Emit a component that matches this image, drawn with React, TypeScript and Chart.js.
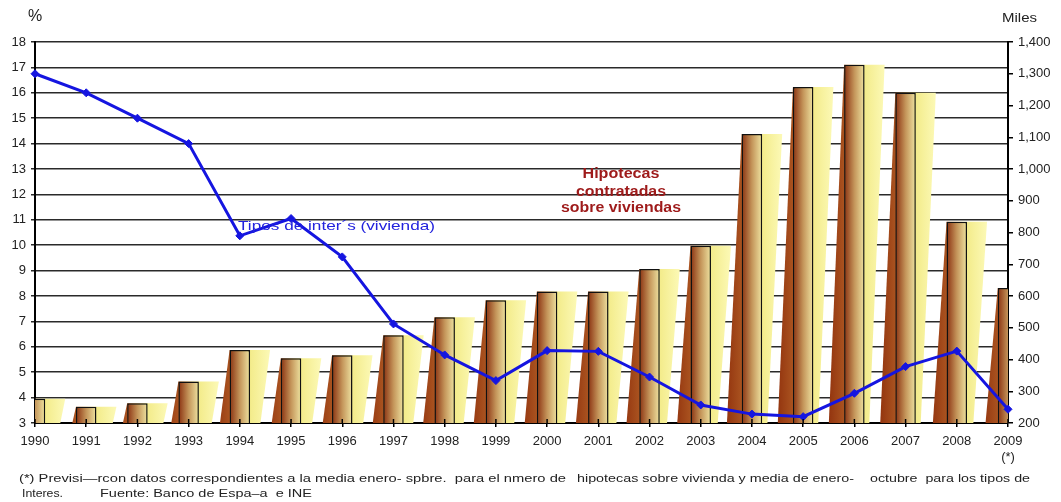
import React, { useEffect, useRef } from 'react';
import { Chart, registerables } from 'chart.js';

Chart.register(...registerables);

const years: (string | string[])[] = [
  '1990', '1991', '1992', '1993', '1994', '1995', '1996', '1997', '1998', '1999',
  '2000', '2001', '2002', '2003', '2004', '2005', '2006', '2007', '2008', ['2009', '(*)'],
];

// Tipos de interés (vivienda), % — left axis
const interestRates = [
  16.75, 16.0, 15.0, 14.0, 10.37, 11.05, 9.54, 6.9, 5.68, 4.67,
  5.85, 5.82, 4.81, 3.71, 3.35, 3.25, 4.17, 5.22, 5.83, 3.54,
];

// Hipotecas contratadas sobre viviendas, miles — right axis
const mortgages = [
  276, 251, 262, 331, 430, 404, 413, 476, 533, 587,
  614, 614, 685, 758, 1110, 1258, 1328, 1240, 834, 625,
];

const leftTicks = { min: 3, max: 18, step: 1 };
const rightTicks = { min: 200, max: 1400, step: 100 };

const FONT = "Arial, 'Liberation Sans', sans-serif";

function fitText(
  ctx: CanvasRenderingContext2D,
  text: string,
  x: number,
  y: number,
  font: string,
  color: string,
  targetW: number | null,
  align: 'left' | 'center' = 'left'
) {
  ctx.save();
  ctx.font = font;
  ctx.fillStyle = color;
  ctx.textBaseline = 'middle';
  ctx.textAlign = 'left';
  const w = ctx.measureText(text).width;
  const s = targetW ? targetW / w : 1;
  ctx.translate(x, y);
  ctx.scale(s, 1);
  ctx.fillText(text, align === 'center' ? -w / 2 : 0, 0);
  ctx.restore();
}

function barHalf(chart: any) {
  const a = chart.chartArea;
  return ((a.right - a.left) / (years.length - 1)) * 0.4 / 2;
}

const shadowPlugin = {
  id: 'shadowPlugin',
  beforeDatasetsDraw(chart: any) {
    const meta = chart.getDatasetMeta(0);
    const a = chart.chartArea;
    const ctx: CanvasRenderingContext2D = chart.ctx;
    ctx.save();
    ctx.beginPath();
    ctx.rect(a.left, a.top, a.right - a.left, a.bottom - a.top);
    ctx.clip();
    meta.data.forEach((el: any) => {
      const half = el.width / 2;
      const L = el.x - half;
      const R = el.x + half;
      const T = el.y;
      const B = el.base;
      const skew = 18;
      const g = ctx.createLinearGradient(L - skew, 0, R + skew + 2, 0);
      g.addColorStop(0, '#8f2f0c');
      g.addColorStop(0.3, '#a9521f');
      g.addColorStop(0.62, '#f2ea86');
      g.addColorStop(1, '#fcf9b6');
      ctx.fillStyle = g;
      ctx.beginPath();
      ctx.moveTo(L - skew, B);
      ctx.lineTo(L, T);
      ctx.lineTo(R + skew + 2, T);
      ctx.lineTo(R + 2, B);
      ctx.closePath();
      ctx.fill();
    });
    ctx.restore();
  },
  afterDraw(chart: any) {
    const ctx: CanvasRenderingContext2D = chart.ctx;
    const xs = chart.scales.x;
    const a = chart.chartArea;
    // inner half of x-axis ticks
    ctx.save();
    ctx.strokeStyle = '#000';
    ctx.lineWidth = 1.5;
    for (let i = 0; i < years.length; i++) {
      const px = xs.getPixelForTick(i);
      ctx.beginPath();
      ctx.moveTo(px, a.bottom - 4);
      ctx.lineTo(px, a.bottom);
      ctx.stroke();
    }
    ctx.restore();

    fitText(ctx, '%', 28, 17, `16px ${FONT}`, '#222', null);
    fitText(ctx, 'Miles', 1002, 18, `13px ${FONT}`, '#222', 35);

    fitText(ctx, 'Tipos de inter´s (vivienda)', 238, 226, `13px ${FONT}`, '#2222dd', 197);

    fitText(ctx, 'Hipotecas', 621, 174, `bold 14px ${FONT}`, '#9e1a1a', 77, 'center');
    fitText(ctx, 'contratadas', 621, 192, `bold 14px ${FONT}`, '#9e1a1a', 90, 'center');
    fitText(ctx, 'sobre viviendas', 621, 208, `bold 14px ${FONT}`, '#9e1a1a', 120, 'center');

    const fn = `11.5px ${FONT}`;
    fitText(ctx, '(*) Previsi—rcon datos correspondientes a la media enero- spbre.  para el nmero de', 19, 479, fn, '#222', 547);
    fitText(ctx, 'hipotecas sobre vivienda y media de enero-', 577, 479, fn, '#222', 277);
    fitText(ctx, 'octubre  para los tipos de', 870, 479, fn, '#222', 160);
    fitText(ctx, 'Interes.', 22, 494, fn, '#222', 41);
    fitText(ctx, 'Fuente: Banco de Espa–a  e INE', 100, 494, fn, '#222', 212);
  },
};

export default function App() {
  const ref = useRef<HTMLCanvasElement>(null);

  useEffect(() => {
    if (!ref.current) return;
    const tickFont = { family: FONT, size: 13 };
    const chart = new Chart(ref.current, {
      type: 'bar',
      data: {
        labels: years as any,
        datasets: [
          {
            type: 'bar',
            label: 'Hipotecas contratadas sobre viviendas',
            data: mortgages,
            yAxisID: 'y1',
            order: 2,
            barPercentage: 0.4,
            categoryPercentage: 1,
            borderColor: '#111',
            borderWidth: 1.5,
            borderSkipped: 'bottom',
            backgroundColor: (c: any) => {
              const chart = c.chart;
              if (!chart.chartArea) return '#c08a4a';
              const cx = chart.scales.x.getPixelForValue(c.dataIndex);
              const h = barHalf(chart);
              const g = chart.ctx.createLinearGradient(cx - h, 0, cx + h, 0);
              g.addColorStop(0, '#8a3010');
              g.addColorStop(0.5, '#c4955a');
              g.addColorStop(1, '#efe4a2');
              return g;
            },
          } as any,
          {
            type: 'line',
            label: 'Tipos de interés (vivienda)',
            data: interestRates,
            yAxisID: 'y',
            order: 1,
            borderColor: '#1515e0',
            backgroundColor: '#1515e0',
            borderWidth: 3,
            pointStyle: 'rectRot',
            pointRadius: 4,
            pointBorderWidth: 1,
            tension: 0,
          } as any,
        ],
      },
      options: {
        responsive: false,
        animation: false,
        devicePixelRatio: 1,
        layout: { padding: { top: 42, left: 0, right: 0, bottom: 0 } },
        plugins: { legend: { display: false }, tooltip: { enabled: false } },
        scales: {
          x: {
            type: 'category',
            offset: false,
            grid: {
              offset: false,
              drawOnChartArea: false,
              drawTicks: true,
              tickLength: 4,
              color: '#000',
              lineWidth: 1.5,
            },
            border: { display: true, color: '#000', width: 2 },
            ticks: {
              color: '#222',
              font: { ...tickFont, lineHeight: 1.25 },
              padding: 6,
              maxRotation: 0,
              autoSkip: false,
            },
            afterFit: (s: any) => {
              s.height = 79;
            },
          },
          y: {
            position: 'left',
            min: leftTicks.min,
            max: leftTicks.max,
            ticks: { stepSize: leftTicks.step, color: '#222', font: tickFont, padding: 5 },
            grid: { color: '#2a2a2a', lineWidth: 1.5, tickLength: 4 },
            border: { display: true, color: '#000', width: 2 },
            afterFit: (s: any) => {
              s.width = 35;
            },
          },
          y1: {
            position: 'right',
            min: rightTicks.min,
            max: rightTicks.max,
            ticks: {
              stepSize: rightTicks.step,
              color: '#222',
              font: tickFont,
              padding: 5,
              callback: (v: any) => Number(v).toLocaleString('en-US'),
            },
            grid: { drawOnChartArea: false, tickLength: 5, color: '#000', lineWidth: 1.5 },
            border: { display: true, color: '#000', width: 2 },
            afterFit: (s: any) => {
              s.width = 53;
            },
          },
        },
      } as any,
      plugins: [shadowPlugin],
    });
    return () => chart.destroy();
  }, []);

  return (
    <div style={{ position: 'absolute', left: 0, top: 0, width: 1061, height: 502, background: '#fff' }}>
      <canvas ref={ref} width={1061} height={502} style={{ display: 'block' }} />
    </div>
  );
}
